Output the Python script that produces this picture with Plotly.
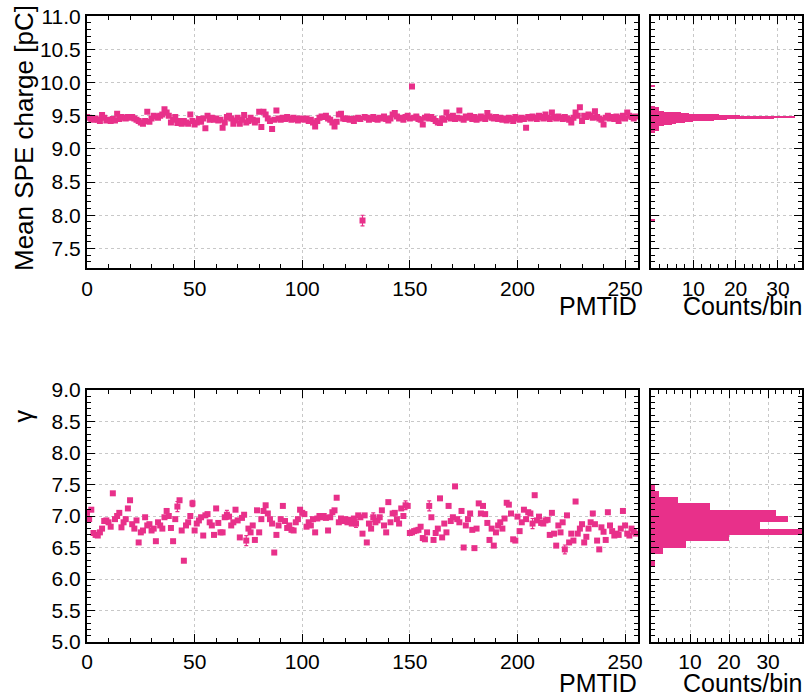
import plotly.graph_objects as go

pmt_id = list(range(256))

spe_charge = [
 9.48,9.47,9.45,9.44,9.46,9.44,9.42,9.51,9.47,9.43,9.44,9.42,9.45,9.43,9.53,9.45,
 9.48,9.47,9.46,9.48,9.47,9.48,9.46,9.44,9.42,9.40,9.38,9.42,9.56,9.41,9.46,9.50,
 9.49,9.47,9.50,9.52,9.60,9.55,9.50,9.40,9.44,9.48,9.39,9.42,9.38,9.42,9.40,9.38,
 9.52,9.42,9.37,9.40,9.45,9.41,9.46,9.31,9.50,9.44,9.47,9.44,9.46,9.43,9.44,9.32,
 9.40,9.48,9.50,9.46,9.38,9.43,9.47,9.38,9.44,9.51,9.40,9.42,9.47,9.44,9.40,9.43,
 9.56,9.33,9.56,9.52,9.46,9.42,9.30,9.44,9.58,9.46,9.44,9.47,9.45,9.48,9.46,9.44,
 9.47,9.45,9.43,9.46,9.45,9.44,9.46,9.42,9.44,9.40,9.34,9.42,9.47,9.49,9.48,9.50,
 9.46,9.44,9.40,9.34,9.41,9.52,9.53,9.46,9.45,9.46,9.44,9.45,9.42,9.46,9.47,9.45,
 7.92,9.48,9.47,9.44,9.46,9.48,9.45,9.44,9.47,9.46,9.49,9.45,9.43,9.46,9.52,9.54,
 9.49,9.46,9.47,9.44,9.48,9.50,9.46,9.94,9.47,9.49,9.45,9.44,9.37,9.47,9.49,9.46,
 9.48,9.45,9.42,9.40,9.39,9.46,9.44,9.55,9.48,9.46,9.50,9.45,9.47,9.58,9.46,9.44,
 9.49,9.47,9.50,9.45,9.48,9.44,9.46,9.49,9.47,9.45,9.54,9.49,9.47,9.46,9.48,9.45,
 9.47,9.44,9.46,9.43,9.47,9.45,9.42,9.48,9.46,9.44,9.47,9.45,9.32,9.48,9.46,9.49,
 9.47,9.45,9.50,9.48,9.46,9.52,9.47,9.45,9.55,9.48,9.46,9.49,9.47,9.45,9.48,9.46,
 9.44,9.40,9.47,9.55,9.50,9.63,9.42,9.50,9.48,9.52,9.50,9.47,9.57,9.48,9.46,9.44,
 9.37,9.47,9.50,9.46,9.48,9.45,9.49,9.42,9.47,9.50,9.46,9.55,9.50,9.48,9.46,9.49]
spe_err_default = 0.01
spe_err_large = {128: 0.08}

gamma = [
 7.05,6.95,7.10,6.73,6.70,6.69,6.74,6.80,6.92,6.93,6.90,6.83,7.36,6.95,7.00,7.05,
 6.82,6.90,6.95,7.12,7.25,6.87,6.80,6.93,6.58,6.74,6.77,6.98,6.85,6.87,6.77,6.80,
 6.60,6.90,6.85,6.80,6.98,7.08,7.00,6.81,6.60,6.95,7.15,7.25,6.77,6.29,6.85,6.90,
 7.00,7.20,6.77,6.88,6.93,6.98,6.69,7.01,7.03,6.90,6.85,6.70,7.12,6.89,6.74,6.74,
 6.98,7.02,6.99,6.85,6.90,7.10,6.93,6.66,6.97,7.02,6.61,6.80,6.74,6.85,6.62,7.09,
 6.74,6.95,7.08,7.17,7.04,6.95,6.88,6.42,6.70,6.85,6.95,7.16,6.92,6.81,6.85,6.78,
 6.77,6.90,6.95,7.10,7.05,7.03,6.83,6.90,6.85,6.95,6.74,6.96,7.00,6.98,7.00,6.97,
 6.77,6.98,7.06,7.09,7.29,6.90,6.96,6.92,6.95,6.90,6.94,6.88,6.96,6.88,7.01,6.98,
 6.72,7.01,6.58,6.88,6.80,6.98,6.90,6.93,6.98,7.09,6.85,6.74,7.22,6.90,7.04,7.05,
 6.95,6.88,7.12,7.00,7.17,7.16,6.73,6.74,6.76,6.77,6.78,6.83,6.65,6.63,6.74,7.16,
 6.98,6.62,6.73,6.80,7.28,6.66,6.88,6.74,7.16,6.92,6.98,7.47,6.95,6.90,7.08,6.50,
 6.85,6.95,7.04,6.78,6.49,6.80,7.20,7.04,7.16,7.03,6.89,6.62,6.80,6.53,6.74,6.85,
 6.90,6.80,6.96,7.21,7.18,7.04,6.63,6.61,6.99,6.76,6.90,7.10,6.95,7.06,7.04,6.88,
 7.33,6.93,6.99,6.89,6.88,6.93,6.94,6.70,7.05,6.72,6.53,6.85,6.74,6.90,6.47,7.01,
 6.58,6.72,6.61,7.23,6.72,6.80,6.87,6.58,6.67,6.80,6.90,7.04,6.87,6.61,6.47,6.82,
 6.75,6.62,7.06,6.85,6.76,6.69,6.72,6.70,6.80,7.08,6.85,6.72,6.69,6.80,6.75,6.72]
gamma_err_default = 0.02
gamma_err_large = {42: 0.08, 49: 0.05, 65: 0.07, 74: 0.08, 125: 0.06, 133: 0.07,
                   148: 0.07, 159: 0.08, 207: 0.08, 222: 0.07}

# histogram of mean SPE charge (bin centres, counts), bin width 0.01
spe_hist_centers = [round(9.245 + 0.01 * i, 3) for i in range(40)] + [9.945, 7.925]
spe_hist_counts = [1, 1, 1, 2, 1, 2, 2, 2, 2, 2, 2, 3, 4, 5, 6, 7, 8, 10, 12, 15,
                   18, 23, 29, 34, 27, 21, 16, 12, 9, 7, 5, 3, 2, 2, 2, 2, 1, 2, 1, 1,
                   1, 1]
spe_hist_width = 0.01

# histogram of gamma, bin width 0.1
gamma_hist_centers = [7.45, 7.35, 7.25, 7.15, 7.05, 6.95, 6.85, 6.75, 6.65, 6.55, 6.45, 6.25]
gamma_hist_counts = [1, 2, 7, 15, 32, 35, 28, 45, 20, 9, 3, 1]
gamma_hist_width = 0.1

x_ticks = [0, 50, 100, 150, 200, 250]
spe_ticks = [7.5, 8.0, 8.5, 9.0, 9.5, 10.0, 10.5, 11.0]
gamma_ticks = [5.0, 5.5, 6.0, 6.5, 7.0, 7.5, 8.0, 8.5, 9.0]
count_ticks = [0, 10, 20, 30]

PINK = "#e8308a"
FONT = "Liberation Sans, Arial, Helvetica, sans-serif"
W, H = 806, 697

spe_err = [spe_err_large.get(i, spe_err_default) for i in pmt_id]
gamma_err = [gamma_err_large.get(i, gamma_err_default) for i in pmt_id]

fig = go.Figure()
fig.add_trace(go.Scatter(
    x=pmt_id, y=spe_charge, mode="markers", xaxis="x", yaxis="y",
    marker=dict(symbol="square", size=6, color=PINK),
    error_y=dict(type="data", array=spe_err, color=PINK, thickness=1.2, width=2),
    showlegend=False))
fig.add_trace(go.Bar(
    y=spe_hist_centers, x=spe_hist_counts, orientation="h", width=spe_hist_width,
    xaxis="x2", yaxis="y2", marker=dict(color=PINK, line=dict(width=0)), showlegend=False))
fig.add_trace(go.Scatter(
    x=pmt_id, y=gamma, mode="markers", xaxis="x3", yaxis="y3",
    marker=dict(symbol="square", size=6, color=PINK),
    error_y=dict(type="data", array=gamma_err, color=PINK, thickness=1.2, width=2),
    showlegend=False))
fig.add_trace(go.Bar(
    y=gamma_hist_centers, x=gamma_hist_counts, orientation="h", width=gamma_hist_width,
    xaxis="x4", yaxis="y4", marker=dict(color=PINK, line=dict(width=0)), showlegend=False))

def px_x(p):
    return p / W

def px_y(p):
    return 1 - p / H

main_dom = [px_x(87), px_x(638)]
hist_dom = [px_x(651), px_x(802)]
top_dom = [px_y(268.3), px_y(16.3)]
bot_dom = [px_y(642), px_y(390)]

common = dict(
    showline=True, linecolor="black", linewidth=2, mirror="ticks",
    ticks="inside", ticklen=8, tickwidth=1, tickcolor="black",
    showgrid=True, gridcolor="#c8c8c8", griddash="dot", gridwidth=1,
    zeroline=False, automargin=False,
    tickfont=dict(family=FONT, size=21, color="black"),
)

def minor(dt, t0=0):
    return dict(tickmode="linear", tick0=t0, dtick=dt, ticks="inside", ticklen=4,
                tickcolor="black", tickwidth=1, showgrid=False)

fig.update_layout(
    width=W, height=H, margin=dict(l=0, r=0, t=0, b=0, autoexpand=False),
    paper_bgcolor="white", plot_bgcolor="white", bargap=0,
    xaxis=dict(domain=main_dom, anchor="y", range=[0, 256], tickmode="array", tickvals=x_ticks,
               minor=minor(10), ticklabelstandoff=0, **common),
    yaxis=dict(domain=top_dom, anchor="x", range=[7.2, 11.0], tickmode="array", tickvals=spe_ticks,
               ticktext=[f"{v:.1f}" for v in spe_ticks], minor=minor(0.1, 7.5),
               ticklabelstandoff=0, **common),
    xaxis2=dict(domain=hist_dom, anchor="y2", range=[0, 35.7], tickmode="array", tickvals=count_ticks,
                ticktext=["", "10", "20", "30"], minor=minor(2),
                ticklabelstandoff=0, **common),
    yaxis2=dict(domain=top_dom, anchor="x2", range=[7.2, 11.0], tickmode="array", tickvals=spe_ticks,
                showticklabels=False, minor=minor(0.1, 7.5), **common),
    xaxis3=dict(domain=main_dom, anchor="y3", range=[0, 256], tickmode="array", tickvals=x_ticks,
                minor=minor(10), ticklabelstandoff=0, **common),
    yaxis3=dict(domain=bot_dom, anchor="x3", range=[5.0, 9.0], tickmode="array", tickvals=gamma_ticks,
                ticktext=[f"{v:.1f}" for v in gamma_ticks], minor=minor(0.1, 5.0),
                ticklabelstandoff=0, **common),
    xaxis4=dict(domain=hist_dom, anchor="y4", range=[0, 38.7], tickmode="array", tickvals=count_ticks,
                ticktext=["", "10", "20", "30"], minor=minor(2),
                ticklabelstandoff=0, **common),
    yaxis4=dict(domain=bot_dom, anchor="x4", range=[5.0, 9.0], tickmode="array", tickvals=gamma_ticks,
                showticklabels=False, minor=minor(0.1, 5.0), **common),
)

tf = dict(family=FONT, size=25, color="black")
annots = [
    dict(text="PMTID", x=px_x(638), y=px_y(306), xanchor="right", yanchor="middle"),
    dict(text="Counts/bin", x=px_x(804), y=px_y(306), xanchor="right", yanchor="middle"),
    dict(text="PMTID", x=px_x(638), y=px_y(683), xanchor="right", yanchor="middle"),
    dict(text="Counts/bin", x=px_x(804), y=px_y(683), xanchor="right", yanchor="middle"),
    dict(text="Mean SPE charge [pC]", x=px_x(8), y=px_y(4), xanchor="left", yanchor="top",
         textangle=-90, font=dict(family=FONT, size=26, color="black")),
    dict(text="γ", x=px_x(7), y=px_y(409), xanchor="left", yanchor="top", textangle=-90),
]
for a in annots:
    a.setdefault("font", tf)
    fig.add_annotation(xref="paper", yref="paper", showarrow=False, borderpad=0, **a)

fig.write_html("out.html")
